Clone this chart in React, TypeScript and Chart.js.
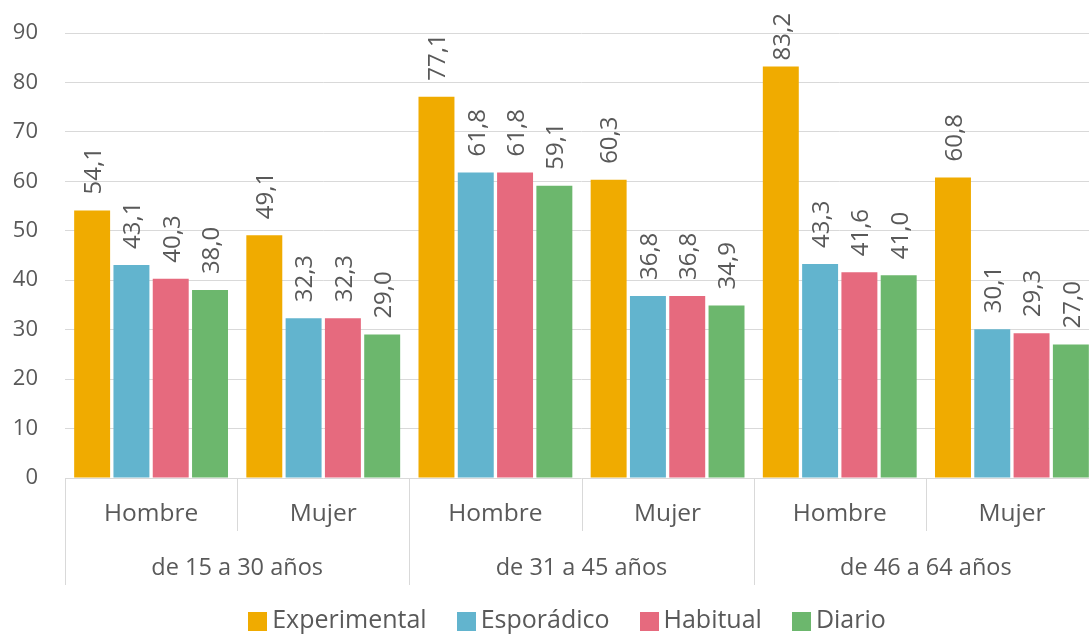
import { useEffect, useRef } from "react";
import { Chart, registerables } from "chart.js";

Chart.register(...registerables);

const subCategories = ["Hombre", "Mujer", "Hombre", "Mujer", "Hombre", "Mujer"];
const ageGroups = ["de 15 a 30 años", "de 31 a 45 años", "de 46 a 64 años"];
const seriesNames = ["Experimental", "Esporádico", "Habitual", "Diario"];
const experimental = [54.1, 49.1, 77.1, 60.3, 83.2, 60.8];
const esporadico = [43.1, 32.3, 61.8, 36.8, 43.3, 30.1];
const habitual = [40.3, 32.3, 61.8, 36.8, 41.6, 29.3];
const diario = [38.0, 29.0, 59.1, 34.9, 41.0, 27.0];
const seriesColors = ["#F0AB00", "#62B4CE", "#E66A7E", "#6CB76D"];
const yMin = 0;
const yMax = 90;
const yStep = 10;

const FONT = "'Open Sans', 'Noto Sans', sans-serif";
const TEXT = "#595959";
const LINE = "#D9D9D9";
const W = 1134;
const H = 636;

const fmt = (v: number) => v.toFixed(1).replace(".", ",");

const labelsPlugin = {
  id: "barLabels",
  afterDatasetsDraw(chart: any) {
    const ctx = chart.ctx;
    ctx.save();
    ctx.fillStyle = TEXT;
    ctx.font = `24px ${FONT}`;
    ctx.textAlign = "left";
    ctx.textBaseline = "middle";
    chart.data.datasets.forEach((ds: any, di: number) => {
      const meta = chart.getDatasetMeta(di);
      meta.data.forEach((el: any, i: number) => {
        const txt = fmt(ds.data[i]);
        const len = ctx.measureText(txt).width;
        const start = Math.max(el.y - 16, 13 + len);
        ctx.save();
        ctx.translate(el.x + 2, start);
        ctx.rotate(-Math.PI / 2);
        ctx.fillText(txt, 0, 0);
        ctx.restore();
      });
    });
    ctx.restore();
  },
};

const groupAxisPlugin = {
  id: "groupAxis",
  afterDraw(chart: any) {
    const ctx = chart.ctx;
    const xs = chart.scales.x;
    const top = chart.chartArea.bottom;
    ctx.save();
    ctx.strokeStyle = LINE;
    ctx.lineWidth = 1;
    for (let i = 0; i <= subCategories.length; i++) {
      const x = Math.round(xs.getPixelForValue(i - 0.5)) + 0.5;
      const len = i % 2 === 0 ? 107 : 53;
      ctx.beginPath();
      ctx.moveTo(x, top);
      ctx.lineTo(x, top + len);
      ctx.stroke();
    }
    ctx.fillStyle = TEXT;
    ctx.textAlign = "center";
    ctx.textBaseline = "middle";
    ctx.font = `24.5px ${FONT}`;
    subCategories.forEach((s, i) => {
      ctx.fillText(s, xs.getPixelForValue(i), top + 36);
    });
    ctx.font = `23.5px ${FONT}`;
    ageGroups.forEach((g, k) => {
      ctx.fillText(g, xs.getPixelForValue(2 * k + 0.5), top + 90);
    });

    // legend
    const box = 19;
    const gapBoxText = 5;
    const gapItems = 30;
    ctx.font = `25px ${FONT}`;
    const widths = seriesNames.map((n) => box + gapBoxText + ctx.measureText(n).width);
    const total = widths.reduce((a, b) => a + b, 0) + gapItems * (seriesNames.length - 1);
    let x = chart.width / 2 - total / 2;
    const cy = 621;
    ctx.textAlign = "left";
    seriesNames.forEach((n, i) => {
      ctx.fillStyle = seriesColors[i];
      ctx.fillRect(Math.round(x), Math.round(cy - box / 2), box, box);
      ctx.fillStyle = TEXT;
      ctx.fillText(n, x + box + gapBoxText, cy);
      x += widths[i] + gapItems;
    });
    ctx.restore();
  },
};

export default function App() {
  const ref = useRef<HTMLCanvasElement | null>(null);
  useEffect(() => {
    if (!ref.current) return;
    const series = [experimental, esporadico, habitual, diario];
    const chart = new Chart(ref.current, {
      type: "bar",
      data: {
        labels: subCategories,
        datasets: series.map((d, i) => ({
          label: seriesNames[i],
          data: d,
          backgroundColor: seriesColors[i],
          borderWidth: 0,
          categoryPercentage: 0.913,
          barPercentage: 0.915,
        })),
      },
      options: {
        responsive: false,
        animation: false,
        devicePixelRatio: 1,
        layout: { padding: { top: 33, left: 0, right: 0, bottom: 0 } },
        plugins: {
          tooltip: { enabled: false },
          legend: { display: false },
        },
        scales: {
          x: {
            type: "category",
            offset: true,
            grid: { display: false },
            border: { display: false },
            ticks: { display: false },
            afterFit: (s: any) => {
              s.height = 158;
            },
          },
          y: {
            min: yMin,
            max: yMax,
            grid: {
              color: LINE,
              lineWidth: 1,
              drawTicks: true,
              tickLength: 27,
              tickColor: "rgba(0,0,0,0)",
            },
            border: { display: false },
            ticks: {
              stepSize: yStep,
              padding: 0,
              color: TEXT,
              font: { family: FONT, size: 22 },
            },
            afterFit: (s: any) => {
              s.width = 65;
            },
          },
          yR: {
            position: "right",
            display: true,
            grid: { display: false },
            border: { display: false },
            ticks: { display: false },
            afterFit: (s: any) => {
              s.width = 36;
            },
          },
        },
      },
      plugins: [labelsPlugin, groupAxisPlugin],
    });
    return () => chart.destroy();
  }, []);

  return (
    <div
      style={{
        position: "fixed",
        left: 0,
        top: 0,
        width: 1089,
        height: 636,
        overflow: "hidden",
        background: "#fff",
      }}
    >
      <canvas ref={ref} width={W} height={H} style={{ display: "block" }} />
    </div>
  );
}
